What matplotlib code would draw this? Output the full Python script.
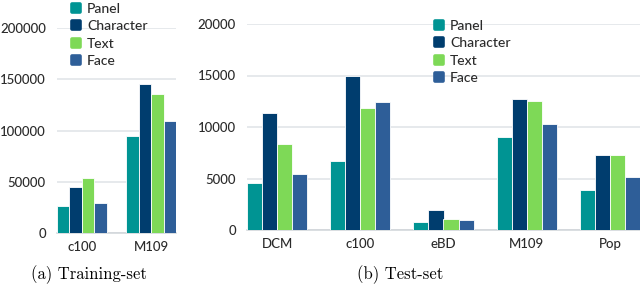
import matplotlib
matplotlib.use('Agg')
import matplotlib.pyplot as plt
import numpy as np
from matplotlib.lines import Line2D
from matplotlib.markers import MarkerStyle

# Data
series = ['Panel', 'Character', 'Text', 'Face']
colors = ['#009493', '#003d6e', '#7ed957', '#2e5e98']

train_sets = ['c100', 'M109']
train_panel = [26500, 95000]
train_character = [45000, 145000]
train_text = [54000, 136000]
train_face = [29500, 109000]

test_sets = ['DCM', 'c100', 'eBD', 'M109', 'Pop']
test_panel = [4560, 6700, 780, 9030, 3880]
test_character = [11360, 14950, 1940, 12700, 7280]
test_text = [8350, 11840, 1070, 12520, 7280]
test_face = [5440, 12430, 970, 10290, 5150]

tick_font = 'Lato'
tick_color = '#2b2b2b'
grid_color = '#dfe3e7'

fig = plt.figure(figsize=(6.4, 2.84), dpi=100)
W, H = 640, 284


def axes_px(x0, x1, ytop, ybot):
    return fig.add_axes([x0 / W, 1 - ybot / H, (x1 - x0) / W, (ybot - ytop) / H])


def draw_groups(ax, cats, vals, gw, ymax, yticks):
    x = np.arange(len(cats))
    bw = gw / 4
    for i, (v, c) in enumerate(zip(vals, colors)):
        ax.bar(x - gw / 2 + bw * (i + 0.5), v, width=bw, color=c,
               edgecolor='white', linewidth=0.6, zorder=3)
    ax.set_xlim(-gw / 2, len(cats) - 1 + gw / 2)
    ax.set_ylim(0, ymax)
    ax.set_yticks(yticks)
    ax.set_xticks(x)
    ax.set_xticklabels(cats)
    ax.yaxis.grid(True, color=grid_color, linewidth=1.1, zorder=0)
    for s in ['top', 'right', 'left']:
        ax.spines[s].set_visible(False)
    ax.spines['bottom'].set_color('#cfd4d8')
    ax.spines['bottom'].set_linewidth(1.1)
    ax.tick_params(length=0, labelsize=9.5, labelcolor=tick_color)
    ax.tick_params(axis='y', pad=8)
    ax.tick_params(axis='x', pad=6)
    for lab in ax.get_xticklabels() + ax.get_yticklabels():
        lab.set_fontfamily(tick_font)
        lab.set_fontweight('medium')


# (a) Training-set
ax1 = axes_px(57, 176, 28, 233)
draw_groups(ax1, train_sets,
            [train_panel, train_character, train_text, train_face],
            0.714, 200000, [0, 50000, 100000, 150000, 200000])

# (b) Test-set
ax2 = axes_px(247, 640, 24, 230)
draw_groups(ax2, test_sets,
            [test_panel, test_character, test_text, test_face],
            0.723, 20000, [0, 5000, 10000, 15000, 20000])

handles = [Line2D([], [], linestyle='none',
                  marker=MarkerStyle('s', joinstyle='round'),
                  markersize=6, markerfacecolor=c, markeredgecolor=c,
                  markeredgewidth=2.6) for c in colors]

for anchor in [(69 / W, 1 - 3 / H), (432 / W, 1 - 20 / H)]:
    leg = fig.legend(handles, series, loc='upper left', bbox_to_anchor=anchor,
                     frameon=False, borderpad=0, borderaxespad=0,
                     handlelength=1.0, handletextpad=0.3, labelspacing=0.38,
                     prop={'family': tick_font, 'size': 10, 'weight': 'medium'})
    for t in leg.get_texts():
        t.set_color(tick_color)

fig.text(88.5 / W, 1 - 279 / H, '(a) Training-set', family='cmr10',
         fontsize=12, ha='center', va='baseline')
fig.text(400.5 / W, 1 - 279 / H, '(b) Test-set', family='cmr10',
         fontsize=12, ha='center', va='baseline')

fig.savefig('out.png', dpi=100)
